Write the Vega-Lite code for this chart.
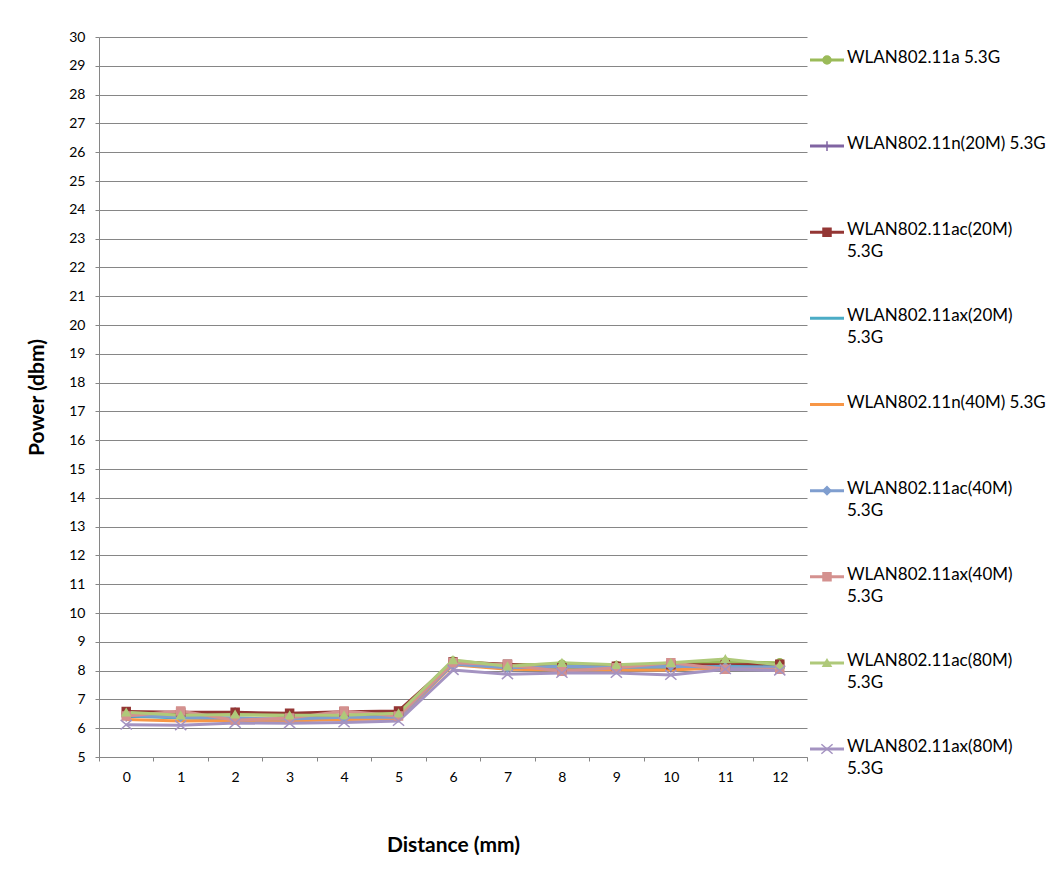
{
  "$schema": "https://vega.github.io/schema/vega-lite/v6.json",
  "padding": {"left": 26, "top": 30, "right": 0, "bottom": 0},
  "spacing": 0,
  "background": "white",
  "config": {
    "view": {"stroke": null},
    "font": "Lato",
    "axis": {"domainColor": "#868686", "tickColor": "#868686", "gridColor": "#868686", "labelColor": "#000000", "titleColor": "#000000", "labelFontSize": 14, "titleFontSize": 21, "titleFontWeight": "bold", "labelFont": "Lato", "titleFont": "Lato"}
  },
  "datasets": {
    "pts": [
      {"series": "WLAN802.11a 5.3G", "distance": 0, "power": 6.52}, {"series": "WLAN802.11a 5.3G", "distance": 1, "power": 6.45}, {"series": "WLAN802.11a 5.3G", "distance": 2, "power": 6.47}, {"series": "WLAN802.11a 5.3G", "distance": 3, "power": 6.44}, {"series": "WLAN802.11a 5.3G", "distance": 4, "power": 6.45}, {"series": "WLAN802.11a 5.3G", "distance": 5, "power": 6.52}, {"series": "WLAN802.11a 5.3G", "distance": 6, "power": 8.33}, {"series": "WLAN802.11a 5.3G", "distance": 7, "power": 8.20}, {"series": "WLAN802.11a 5.3G", "distance": 8, "power": 8.22}, {"series": "WLAN802.11a 5.3G", "distance": 9, "power": 8.18}, {"series": "WLAN802.11a 5.3G", "distance": 10, "power": 8.22}, {"series": "WLAN802.11a 5.3G", "distance": 11, "power": 8.30}, {"series": "WLAN802.11a 5.3G", "distance": 12, "power": 8.27},
      {"series": "WLAN802.11n(20M) 5.3G", "distance": 0, "power": 6.40}, {"series": "WLAN802.11n(20M) 5.3G", "distance": 1, "power": 6.45}, {"series": "WLAN802.11n(20M) 5.3G", "distance": 2, "power": 6.55}, {"series": "WLAN802.11n(20M) 5.3G", "distance": 3, "power": 6.45}, {"series": "WLAN802.11n(20M) 5.3G", "distance": 4, "power": 6.42}, {"series": "WLAN802.11n(20M) 5.3G", "distance": 5, "power": 6.45}, {"series": "WLAN802.11n(20M) 5.3G", "distance": 6, "power": 8.22}, {"series": "WLAN802.11n(20M) 5.3G", "distance": 7, "power": 8.10}, {"series": "WLAN802.11n(20M) 5.3G", "distance": 8, "power": 8.12}, {"series": "WLAN802.11n(20M) 5.3G", "distance": 9, "power": 8.10}, {"series": "WLAN802.11n(20M) 5.3G", "distance": 10, "power": 8.10}, {"series": "WLAN802.11n(20M) 5.3G", "distance": 11, "power": 8.18}, {"series": "WLAN802.11n(20M) 5.3G", "distance": 12, "power": 8.15},
      {"series": "WLAN802.11ac(20M) 5.3G", "distance": 0, "power": 6.58}, {"series": "WLAN802.11ac(20M) 5.3G", "distance": 1, "power": 6.55}, {"series": "WLAN802.11ac(20M) 5.3G", "distance": 2, "power": 6.55}, {"series": "WLAN802.11ac(20M) 5.3G", "distance": 3, "power": 6.52}, {"series": "WLAN802.11ac(20M) 5.3G", "distance": 4, "power": 6.57}, {"series": "WLAN802.11ac(20M) 5.3G", "distance": 5, "power": 6.60}, {"series": "WLAN802.11ac(20M) 5.3G", "distance": 6, "power": 8.30}, {"series": "WLAN802.11ac(20M) 5.3G", "distance": 7, "power": 8.22}, {"series": "WLAN802.11ac(20M) 5.3G", "distance": 8, "power": 8.10}, {"series": "WLAN802.11ac(20M) 5.3G", "distance": 9, "power": 8.15}, {"series": "WLAN802.11ac(20M) 5.3G", "distance": 10, "power": 8.20}, {"series": "WLAN802.11ac(20M) 5.3G", "distance": 11, "power": 8.20}, {"series": "WLAN802.11ac(20M) 5.3G", "distance": 12, "power": 8.22},
      {"series": "WLAN802.11ax(20M) 5.3G", "distance": 0, "power": 6.42}, {"series": "WLAN802.11ax(20M) 5.3G", "distance": 1, "power": 6.35}, {"series": "WLAN802.11ax(20M) 5.3G", "distance": 2, "power": 6.32}, {"series": "WLAN802.11ax(20M) 5.3G", "distance": 3, "power": 6.30}, {"series": "WLAN802.11ax(20M) 5.3G", "distance": 4, "power": 6.33}, {"series": "WLAN802.11ax(20M) 5.3G", "distance": 5, "power": 6.38}, {"series": "WLAN802.11ax(20M) 5.3G", "distance": 6, "power": 8.22}, {"series": "WLAN802.11ax(20M) 5.3G", "distance": 7, "power": 8.08}, {"series": "WLAN802.11ax(20M) 5.3G", "distance": 8, "power": 8.12}, {"series": "WLAN802.11ax(20M) 5.3G", "distance": 9, "power": 8.08}, {"series": "WLAN802.11ax(20M) 5.3G", "distance": 10, "power": 8.10}, {"series": "WLAN802.11ax(20M) 5.3G", "distance": 11, "power": 8.15}, {"series": "WLAN802.11ax(20M) 5.3G", "distance": 12, "power": 8.12},
      {"series": "WLAN802.11n(40M) 5.3G", "distance": 0, "power": 6.30}, {"series": "WLAN802.11n(40M) 5.3G", "distance": 1, "power": 6.25}, {"series": "WLAN802.11n(40M) 5.3G", "distance": 2, "power": 6.27}, {"series": "WLAN802.11n(40M) 5.3G", "distance": 3, "power": 6.25}, {"series": "WLAN802.11n(40M) 5.3G", "distance": 4, "power": 6.30}, {"series": "WLAN802.11n(40M) 5.3G", "distance": 5, "power": 6.32}, {"series": "WLAN802.11n(40M) 5.3G", "distance": 6, "power": 8.20}, {"series": "WLAN802.11n(40M) 5.3G", "distance": 7, "power": 8.05}, {"series": "WLAN802.11n(40M) 5.3G", "distance": 8, "power": 8.02}, {"series": "WLAN802.11n(40M) 5.3G", "distance": 9, "power": 8.02}, {"series": "WLAN802.11n(40M) 5.3G", "distance": 10, "power": 8.02}, {"series": "WLAN802.11n(40M) 5.3G", "distance": 11, "power": 8.10}, {"series": "WLAN802.11n(40M) 5.3G", "distance": 12, "power": 8.10},
      {"series": "WLAN802.11ac(40M) 5.3G", "distance": 0, "power": 6.45}, {"series": "WLAN802.11ac(40M) 5.3G", "distance": 1, "power": 6.38}, {"series": "WLAN802.11ac(40M) 5.3G", "distance": 2, "power": 6.35}, {"series": "WLAN802.11ac(40M) 5.3G", "distance": 3, "power": 6.32}, {"series": "WLAN802.11ac(40M) 5.3G", "distance": 4, "power": 6.38}, {"series": "WLAN802.11ac(40M) 5.3G", "distance": 5, "power": 6.38}, {"series": "WLAN802.11ac(40M) 5.3G", "distance": 6, "power": 8.22}, {"series": "WLAN802.11ac(40M) 5.3G", "distance": 7, "power": 8.10}, {"series": "WLAN802.11ac(40M) 5.3G", "distance": 8, "power": 8.15}, {"series": "WLAN802.11ac(40M) 5.3G", "distance": 9, "power": 8.12}, {"series": "WLAN802.11ac(40M) 5.3G", "distance": 10, "power": 8.15}, {"series": "WLAN802.11ac(40M) 5.3G", "distance": 11, "power": 8.12}, {"series": "WLAN802.11ac(40M) 5.3G", "distance": 12, "power": 8.12},
      {"series": "WLAN802.11ax(40M) 5.3G", "distance": 0, "power": 6.42}, {"series": "WLAN802.11ax(40M) 5.3G", "distance": 1, "power": 6.60}, {"series": "WLAN802.11ax(40M) 5.3G", "distance": 2, "power": 6.28}, {"series": "WLAN802.11ax(40M) 5.3G", "distance": 3, "power": 6.35}, {"series": "WLAN802.11ax(40M) 5.3G", "distance": 4, "power": 6.60}, {"series": "WLAN802.11ax(40M) 5.3G", "distance": 5, "power": 6.42}, {"series": "WLAN802.11ax(40M) 5.3G", "distance": 6, "power": 8.27}, {"series": "WLAN802.11ax(40M) 5.3G", "distance": 7, "power": 8.20}, {"series": "WLAN802.11ax(40M) 5.3G", "distance": 8, "power": 7.98}, {"series": "WLAN802.11ax(40M) 5.3G", "distance": 9, "power": 8.10}, {"series": "WLAN802.11ax(40M) 5.3G", "distance": 10, "power": 8.27}, {"series": "WLAN802.11ax(40M) 5.3G", "distance": 11, "power": 8.05}, {"series": "WLAN802.11ax(40M) 5.3G", "distance": 12, "power": 8.05},
      {"series": "WLAN802.11ac(80M) 5.3G", "distance": 0, "power": 6.55}, {"series": "WLAN802.11ac(80M) 5.3G", "distance": 1, "power": 6.45}, {"series": "WLAN802.11ac(80M) 5.3G", "distance": 2, "power": 6.48}, {"series": "WLAN802.11ac(80M) 5.3G", "distance": 3, "power": 6.45}, {"series": "WLAN802.11ac(80M) 5.3G", "distance": 4, "power": 6.45}, {"series": "WLAN802.11ac(80M) 5.3G", "distance": 5, "power": 6.52}, {"series": "WLAN802.11ac(80M) 5.3G", "distance": 6, "power": 8.37}, {"series": "WLAN802.11ac(80M) 5.3G", "distance": 7, "power": 8.15}, {"series": "WLAN802.11ac(80M) 5.3G", "distance": 8, "power": 8.27}, {"series": "WLAN802.11ac(80M) 5.3G", "distance": 9, "power": 8.20}, {"series": "WLAN802.11ac(80M) 5.3G", "distance": 10, "power": 8.27}, {"series": "WLAN802.11ac(80M) 5.3G", "distance": 11, "power": 8.40}, {"series": "WLAN802.11ac(80M) 5.3G", "distance": 12, "power": 8.20},
      {"series": "WLAN802.11ax(80M) 5.3G", "distance": 0, "power": 6.12}, {"series": "WLAN802.11ax(80M) 5.3G", "distance": 1, "power": 6.10}, {"series": "WLAN802.11ax(80M) 5.3G", "distance": 2, "power": 6.18}, {"series": "WLAN802.11ax(80M) 5.3G", "distance": 3, "power": 6.17}, {"series": "WLAN802.11ax(80M) 5.3G", "distance": 4, "power": 6.20}, {"series": "WLAN802.11ax(80M) 5.3G", "distance": 5, "power": 6.25}, {"series": "WLAN802.11ax(80M) 5.3G", "distance": 6, "power": 8.02}, {"series": "WLAN802.11ax(80M) 5.3G", "distance": 7, "power": 7.87}, {"series": "WLAN802.11ax(80M) 5.3G", "distance": 8, "power": 7.92}, {"series": "WLAN802.11ax(80M) 5.3G", "distance": 9, "power": 7.92}, {"series": "WLAN802.11ax(80M) 5.3G", "distance": 10, "power": 7.85}, {"series": "WLAN802.11ax(80M) 5.3G", "distance": 11, "power": 8.05}, {"series": "WLAN802.11ax(80M) 5.3G", "distance": 12, "power": 8.00}
    ],
    "leg": [
      {"series": "WLAN802.11a 5.3G", "label": "WLAN802.11a 5.3G"},
      {"series": "WLAN802.11n(20M) 5.3G", "label": "WLAN802.11n(20M) 5.3G"},
      {"series": "WLAN802.11ac(20M) 5.3G", "label": "WLAN802.11ac(20M)\n5.3G"},
      {"series": "WLAN802.11ax(20M) 5.3G", "label": "WLAN802.11ax(20M)\n5.3G"},
      {"series": "WLAN802.11n(40M) 5.3G", "label": "WLAN802.11n(40M) 5.3G"},
      {"series": "WLAN802.11ac(40M) 5.3G", "label": "WLAN802.11ac(40M)\n5.3G"},
      {"series": "WLAN802.11ax(40M) 5.3G", "label": "WLAN802.11ax(40M)\n5.3G"},
      {"series": "WLAN802.11ac(80M) 5.3G", "label": "WLAN802.11ac(80M)\n5.3G"},
      {"series": "WLAN802.11ax(80M) 5.3G", "label": "WLAN802.11ax(80M)\n5.3G"}
    ]
  },
  "hconcat": [
    {
      "width": 708,
      "height": 720,
      "data": {"name": "pts"},
      "encoding": {
        "x": {"field": "distance", "type": "ordinal", "bandPosition": 0.5,
          "scale": {"type": "band", "paddingInner": 0, "paddingOuter": 0},
          "axis": {"title": "Distance (mm)", "labelAngle": 0, "tickSize": 4, "tickBand": "extent", "labelPadding": 9, "titlePadding": 50, "grid": false}},
        "y": {"field": "power", "type": "quantitative",
          "scale": {"domain": [5, 30], "nice": false, "zero": false},
          "axis": {"title": "Power (dbm)", "values": [5,6,7,8,9,10,11,12,13,14,15,16,17,18,19,20,21,22,23,24,25,26,27,28,29,30], "tickSize": 4, "labelPadding": 10, "titlePadding": 21, "grid": true}},
        "color": {"field": "series", "type": "nominal", "legend": null,
          "scale": {"domain": ["WLAN802.11a 5.3G", "WLAN802.11n(20M) 5.3G", "WLAN802.11ac(20M) 5.3G", "WLAN802.11ax(20M) 5.3G", "WLAN802.11n(40M) 5.3G", "WLAN802.11ac(40M) 5.3G", "WLAN802.11ax(40M) 5.3G", "WLAN802.11ac(80M) 5.3G", "WLAN802.11ax(80M) 5.3G"],
            "range": ["#9BBB59", "#8064A2", "#943634", "#4BACC6", "#F79646", "#7F9ECF", "#D4918F", "#AFC97A", "#A493C1"]}}
      },
      "layer": [
        {"mark": {"type": "line", "strokeWidth": 3}},
        {
          "transform": [{"filter": "datum.series !== 'WLAN802.11ax(20M) 5.3G' && datum.series !== 'WLAN802.11n(40M) 5.3G'"}],
          "mark": {"type": "point", "filled": true, "size": 64, "strokeWidth": 1.5, "opacity": 1},
          "encoding": {
            "stroke": {"field": "series", "type": "nominal", "legend": null,
              "scale": {"domain": ["WLAN802.11a 5.3G", "WLAN802.11n(20M) 5.3G", "WLAN802.11ac(20M) 5.3G", "WLAN802.11ax(20M) 5.3G", "WLAN802.11n(40M) 5.3G", "WLAN802.11ac(40M) 5.3G", "WLAN802.11ax(40M) 5.3G", "WLAN802.11ac(80M) 5.3G", "WLAN802.11ax(80M) 5.3G"],
                "range": ["#9BBB59", "#8064A2", "#943634", "#4BACC6", "#F79646", "#7F9ECF", "#D4918F", "#AFC97A", "#A493C1"]}},
            "shape": {"field": "series", "type": "nominal", "legend": null,
              "scale": {"domain": ["WLAN802.11a 5.3G", "WLAN802.11n(20M) 5.3G", "WLAN802.11ac(20M) 5.3G", "WLAN802.11ac(40M) 5.3G", "WLAN802.11ax(40M) 5.3G", "WLAN802.11ac(80M) 5.3G", "WLAN802.11ax(80M) 5.3G"],
                "range": ["circle", "M-1.2,0L1.2,0M0,-1.2L0,1.2", "square", "diamond", "square", "triangle-up", "M-1.4,-1.2L1.4,1.2M-1.4,1.2L1.4,-1.2"]}}
          }
        }
      ]
    },
    {
      "width": 241,
      "height": 735,
      "data": {"name": "leg"},
      "encoding": {
        "y": {"field": "series", "type": "nominal", "axis": null,
          "scale": {"type": "point", "padding": 0.267, "domain": ["WLAN802.11a 5.3G", "WLAN802.11n(20M) 5.3G", "WLAN802.11ac(20M) 5.3G", "WLAN802.11ax(20M) 5.3G", "WLAN802.11n(40M) 5.3G", "WLAN802.11ac(40M) 5.3G", "WLAN802.11ax(40M) 5.3G", "WLAN802.11ac(80M) 5.3G", "WLAN802.11ax(80M) 5.3G"]}},
        "color": {"field": "series", "type": "nominal", "legend": null,
          "scale": {"domain": ["WLAN802.11a 5.3G", "WLAN802.11n(20M) 5.3G", "WLAN802.11ac(20M) 5.3G", "WLAN802.11ax(20M) 5.3G", "WLAN802.11n(40M) 5.3G", "WLAN802.11ac(40M) 5.3G", "WLAN802.11ax(40M) 5.3G", "WLAN802.11ac(80M) 5.3G", "WLAN802.11ax(80M) 5.3G"],
            "range": ["#9BBB59", "#8064A2", "#943634", "#4BACC6", "#F79646", "#7F9ECF", "#D4918F", "#AFC97A", "#A493C1"]}}
      },
      "layer": [
        {"mark": {"type": "rule", "strokeWidth": 3},
          "encoding": {"x": {"datum": 2, "type": "quantitative", "scale": {"domain": [0, 241]}, "axis": null}, "x2": {"datum": 36}}},
        {
          "transform": [{"filter": "datum.series !== 'WLAN802.11ax(20M) 5.3G' && datum.series !== 'WLAN802.11n(40M) 5.3G'"}],
          "mark": {"type": "point", "filled": true, "size": 64, "strokeWidth": 1.5, "opacity": 1},
          "encoding": {
            "x": {"datum": 19, "type": "quantitative", "scale": {"domain": [0, 241]}, "axis": null},
            "stroke": {"field": "series", "type": "nominal", "legend": null,
              "scale": {"domain": ["WLAN802.11a 5.3G", "WLAN802.11n(20M) 5.3G", "WLAN802.11ac(20M) 5.3G", "WLAN802.11ax(20M) 5.3G", "WLAN802.11n(40M) 5.3G", "WLAN802.11ac(40M) 5.3G", "WLAN802.11ax(40M) 5.3G", "WLAN802.11ac(80M) 5.3G", "WLAN802.11ax(80M) 5.3G"],
                "range": ["#9BBB59", "#8064A2", "#943634", "#4BACC6", "#F79646", "#7F9ECF", "#D4918F", "#AFC97A", "#A493C1"]}},
            "shape": {"field": "series", "type": "nominal", "legend": null,
              "scale": {"domain": ["WLAN802.11a 5.3G", "WLAN802.11n(20M) 5.3G", "WLAN802.11ac(20M) 5.3G", "WLAN802.11ac(40M) 5.3G", "WLAN802.11ax(40M) 5.3G", "WLAN802.11ac(80M) 5.3G", "WLAN802.11ax(80M) 5.3G"],
                "range": ["circle", "M-1.2,0L1.2,0M0,-1.2L0,1.2", "square", "diamond", "square", "triangle-up", "M-1.4,-1.2L1.4,1.2M-1.4,1.2L1.4,-1.2"]}}
          }
        },
        {"mark": {"type": "text", "align": "left", "baseline": "top", "dy": -10, "fontSize": 17, "font": "Lato", "lineBreak": "\n", "lineHeight": 22, "color": "#000000"},
          "encoding": {"x": {"datum": 39, "type": "quantitative", "scale": {"domain": [0, 241]}, "axis": null}, "text": {"field": "label"}, "color": {"value": "#000000"}}}
      ]
    }
  ]
}
